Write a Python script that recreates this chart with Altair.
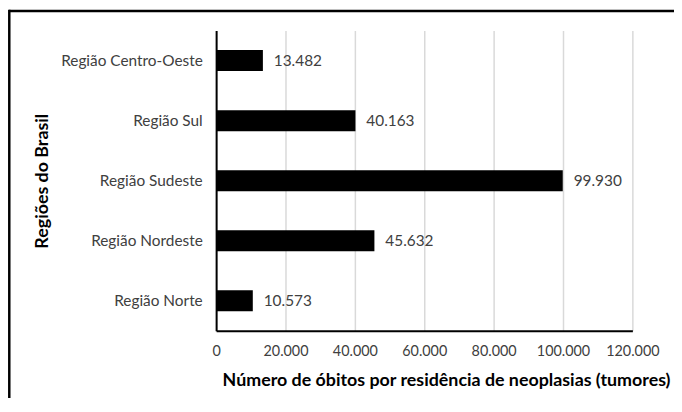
import altair as alt
import pandas as pd

regioes = ["Região Centro-Oeste", "Região Sul", "Região Sudeste", "Região Nordeste", "Região Norte"]
obitos = [13482, 40163, 99930, 45632, 10573]
x_ticks = [0, 20000, 40000, 60000, 80000, 100000, 120000]

df = pd.DataFrame({"regiao": regioes, "obitos": obitos})
frame_df = pd.DataFrame({"k": [0]})

W, H = 420, 303
FONT = "Lato"
TXT = "#404040"
fmt_lbl = "replace(format(datum.obitos, ','), ',', '.')"
fmt_axis = "replace(format(datum.value, ','), ',', '.')"

y_enc = alt.Y(
    "regiao:N",
    sort=regioes,
    scale=alt.Scale(paddingInner=0.65, paddingOuter=0.325),
    axis=alt.Axis(
        title="Regiões do Brasil",
        titleFont=FONT, titleFontSize=18, titleFontWeight="bold", titleColor="black",
        titleX=-175, titleY=H / 2, titleAngle=-90, titleAlign="center", titleBaseline="middle",
        labelFont=FONT, labelFontSize=15.5, labelColor=TXT, labelPadding=14,
        ticks=False, domainColor="black", domainWidth=2, grid=False,
    ),
)

x_enc = alt.X(
    "obitos:Q",
    scale=alt.Scale(domain=[0, 120000], nice=False),
    axis=alt.Axis(
        values=x_ticks,
        labelExpr=fmt_axis,
        labelOverlap=False,
        labelFlush=False,
        title="Número de óbitos por residência de neoplasias (tumores)",
        titleFont=FONT, titleFontSize=18, titleFontWeight="bold", titleColor="black",
        titleX=232, titleY=50, titleAlign="center", titleBaseline="middle",
        labelFont=FONT, labelFontSize=14.5, labelColor=TXT, labelPadding=14,
        ticks=False, domainColor="black", domainWidth=2,
        grid=True, gridColor="#d9d9d9", gridWidth=1.5,
    ),
)

bars = alt.Chart(df).mark_bar(color="black").encode(x=x_enc, y=y_enc)

labels = (
    alt.Chart(df)
    .transform_calculate(lbl=fmt_lbl)
    .mark_text(align="left", baseline="middle", dx=11, font=FONT, fontSize=15.5, color=TXT)
    .encode(x=alt.X("obitos:Q"), y=alt.Y("regiao:N", sort=regioes), text="lbl:N")
)

top_line = alt.Chart(frame_df).mark_rule(color="black", strokeWidth=2.5).encode(
    x=alt.value(-209), x2=alt.value(W + 80), y=alt.value(-19.7)
)
left_line = alt.Chart(frame_df).mark_rule(color="black", strokeWidth=2.5).encode(
    x=alt.value(-208.7), y=alt.value(-21), y2=alt.value(H + 120)
)

chart = (
    alt.layer(bars, labels, top_line, left_line)
    .properties(
        width=W,
        height=H,
        padding={"left": 210, "top": 21, "right": 42, "bottom": 66},
        autosize=alt.AutoSizeParams(type="none"),
        background="white",
    )
    .configure_view(stroke=None)
)

chart.save("out.html", embed_options={"renderer": "svg", "actions": False})
